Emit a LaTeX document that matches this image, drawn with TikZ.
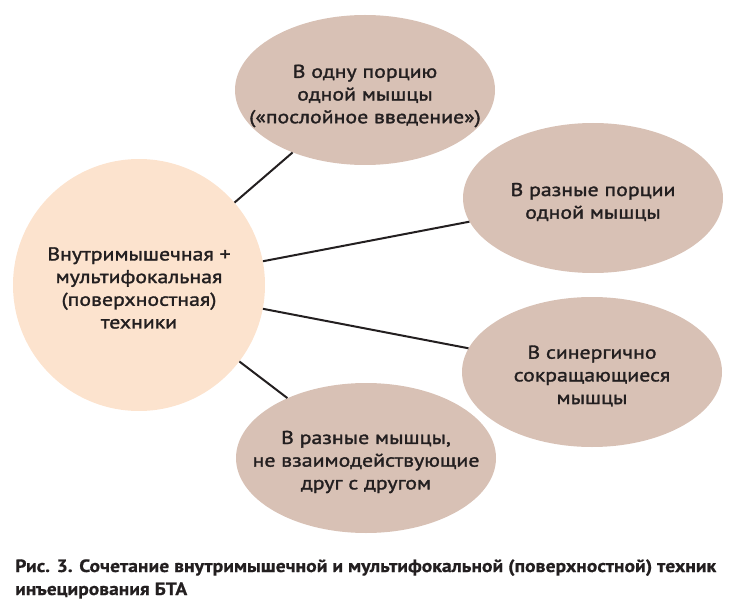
\documentclass[tikz,border=0pt]{standalone}
\usepackage{fontspec}
\setmainfont{PT Sans}
\newfontfamily\bodyfont[FakeBold=1.6,FakeStretch=1.18]{PT Sans}
\newfontfamily\capfont[FakeStretch=1.1,FakeBold=0.6]{PT Sans Bold}
\usetikzlibrary{shapes.geometric}
\definecolor{peach}{HTML}{FCE3CE}
\definecolor{taupe}{HTML}{D8C1B5}
\definecolor{ink}{HTML}{231F20}
\tikzset{
  hub/.style={circle, fill=peach, minimum size=252pt, inner sep=0pt},
  leaf/.style={ellipse, fill=taupe, minimum width=260pt, minimum height=150pt, inner sep=0pt},
  txt/.style={align=center, text=ink, inner sep=0pt, font=\bodyfont\fontsize{18.5}{22.7}\selectfont},
  captxt/.style={anchor=base west, text=ink, inner sep=0pt, font=\capfont\fontsize{17.8}{23}\selectfont},
  link/.style={draw=ink, line width=2pt}
}
\begin{document}
\begin{tikzpicture}[x=1pt,y=-1pt]
\useasboundingbox (0,0) rectangle (734,607);
\node[hub] (c) at (139,285) {};
\node[leaf] (e1) at (365,90) {};
\node[leaf] (e2) at (593,198) {};
\node[leaf] (e3) at (592,372) {};
\node[leaf] (e4) at (366,458) {};
\draw[link] (c) -- (e1);
\draw[link] (c) -- (e2);
\draw[link] (c) -- (e3);
\draw[link] (c) -- (e4);
\node[txt] (tc) at (139,288) {Внутримышечная +\\мультифокальная\\(поверхностная)\\техники};
\node[txt] (t1) at (365,96) {В одну порцию\\одной мышцы\\(«послойное введение»)};
\node[txt] (t2) at (593,202) {В разные порции\\одной мышцы};
\node[txt] (t3) at (592,376) {В синергично\\сокращающиеся\\мышцы};
\node[txt] (t4) at (366,462) {В разные мышцы,\\не взаимодействующие\\друг с другом};
\node[captxt] (cap1) at (15,572) {\resizebox{701pt}{\height}{Рис. 3. Сочетание внутримышечной и мультифокальной (поверхностной) техник}};
\node[captxt] (cap2) at (15,595) {\resizebox{172pt}{\height}{инъецирования БТА}};
\end{tikzpicture}
\end{document}
